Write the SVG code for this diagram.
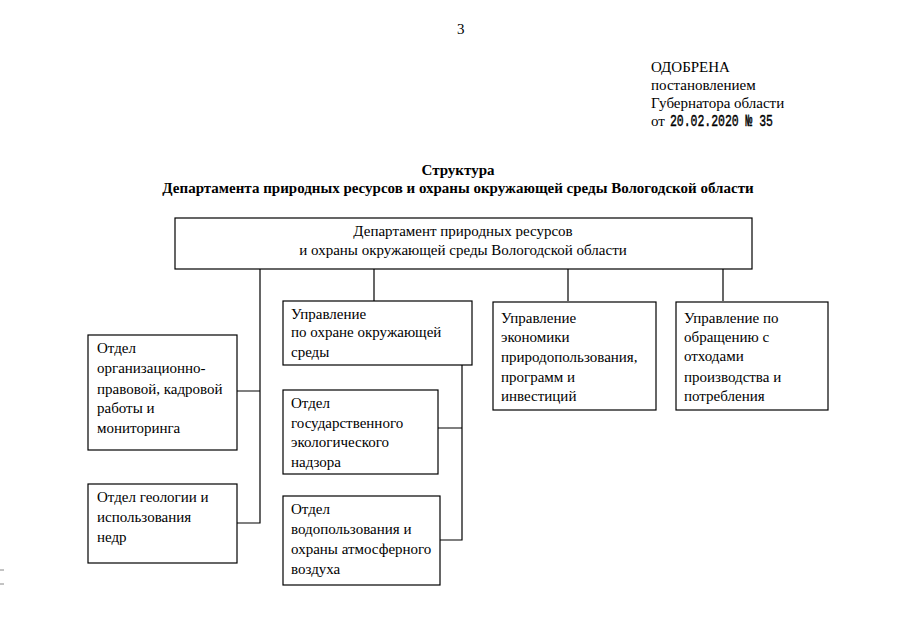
<svg xmlns="http://www.w3.org/2000/svg" width="905" height="640" viewBox="0 0 905 640">
<style>
.t{font-family:"Liberation Serif","Times New Roman",serif;font-size:15px;fill:#000}
.b{font-weight:bold}
.m{font-family:"Liberation Mono","Courier New",monospace;font-size:11.5px;fill:#000;stroke:#000;stroke-width:0.3}
.box{fill:#fff;stroke:#000;stroke-width:1.2}
.ln{fill:none;stroke:#000;stroke-width:1.2}
</style>
<rect width="905" height="640" fill="#fff"/>
<g id="header">
<text class="t" x="457" y="34" font-size="13">3</text>
<text class="t" x="651" y="72">ОДОБРЕНА</text>
<text class="t" x="651" y="90">постановлением</text>
<text class="t" x="651" y="108">Губернатора области</text>
<text class="t" x="651" y="126">от</text>
<text class="m" x="670" y="126" transform="translate(0,-63) scale(1,1.5)" textLength="103">20.02.2020 № 35</text>
<text class="t b" x="458" y="175" text-anchor="middle">Структура</text>
<text class="t b" x="458" y="193" text-anchor="middle">Департамента природных ресурсов и охраны окружающей среды Вологодской области</text>
</g>
<g id="connectors">
<path class="ln" d="M260 269V523H237M237 391H260"/>
<path class="ln" d="M374 269V301"/>
<path class="ln" d="M568 269V301"/>
<path class="ln" d="M723 269V301"/>
<path class="ln" d="M462 365V540H440M438 428H462"/>
</g>
<g id="dept">
<rect class="box" x="175" y="218" width="577" height="51"/>
<text class="t" x="463" y="236" text-anchor="middle">Департамент природных ресурсов</text>
<text class="t" x="463" y="255" text-anchor="middle">и охраны окружающей среды Вологодской области</text>
</g>
<g id="upr-okhrana">
<rect class="box" x="283" y="301" width="189" height="64"/>
<text class="t" x="291" y="319">Управление</text>
<text class="t" x="291" y="337">по охране окружающей</text>
<text class="t" x="291" y="357">среды</text>
</g>
<g id="upr-ekonomika">
<rect class="box" x="493" y="302" width="163" height="108"/>
<text class="t" x="501" y="323">Управление</text>
<text class="t" x="501" y="342">экономики</text>
<text class="t" x="501" y="362">природопользования,</text>
<text class="t" x="501" y="382">программ и</text>
<text class="t" x="501" y="401">инвестиций</text>
</g>
<g id="upr-otkhody">
<rect class="box" x="676" y="302" width="152" height="108"/>
<text class="t" x="684" y="323">Управление по</text>
<text class="t" x="684" y="342">обращению с</text>
<text class="t" x="684" y="361">отходами</text>
<text class="t" x="684" y="382">производства и</text>
<text class="t" x="684" y="401">потребления</text>
</g>
<g id="otdel-org">
<rect class="box" x="88" y="335" width="149" height="115"/>
<text class="t" x="97" y="353">Отдел</text>
<text class="t" x="97" y="373">организационно-</text>
<text class="t" x="97" y="394">правовой, кадровой</text>
<text class="t" x="97" y="413">работы и</text>
<text class="t" x="97" y="433">мониторинга</text>
</g>
<g id="otdel-geol">
<rect class="box" x="88" y="484" width="149" height="79"/>
<text class="t" x="97" y="502">Отдел геологии и</text>
<text class="t" x="97" y="522">использования</text>
<text class="t" x="97" y="542">недр</text>
</g>
<g id="otdel-nadzor">
<rect class="box" x="283" y="390" width="155" height="84"/>
<text class="t" x="291" y="408">Отдел</text>
<text class="t" x="291" y="428">государственного</text>
<text class="t" x="291" y="447">экологического</text>
<text class="t" x="291" y="467">надзора</text>
</g>
<g id="otdel-vodo">
<rect class="box" x="283" y="496" width="157" height="89"/>
<text class="t" x="291" y="514">Отдел</text>
<text class="t" x="291" y="534">водопользования и</text>
<text class="t" x="291" y="554">охраны атмосферного</text>
<text class="t" x="291" y="574">воздуха</text>
</g>
<g id="marks">
<path d="M0 570H4M0 584H4" stroke="#888" stroke-width="1"/>
</g>
</svg>
